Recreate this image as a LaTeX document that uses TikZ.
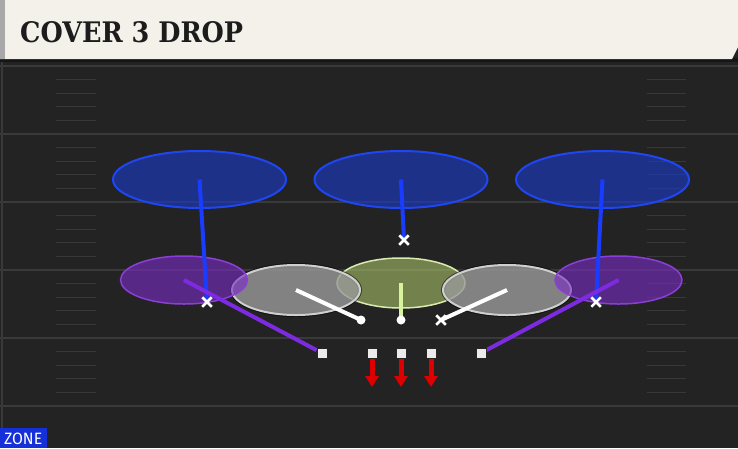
\documentclass[tikz,border=0pt]{standalone}
\usepackage{fontspec}
\usetikzlibrary{shapes.geometric,shapes.misc,arrows.meta}
\newfontfamily\titlefont{DejaVu Serif}
\newfontfamily\zonefont{Fira Sans}
\definecolor{fieldbg}{HTML}{232323}
\definecolor{yardline}{HTML}{393939}
\definecolor{hashcol}{HTML}{383838}
\definecolor{cream}{HTML}{F4F1EA}
\definecolor{headstrip}{HTML}{A8A8A8}
\definecolor{headshadow}{HTML}{161616}
\definecolor{titlecol}{HTML}{1C1C1C}
\definecolor{deepfill}{HTML}{1A3AC8}
\definecolor{deepedge}{HTML}{1F46F0}
\definecolor{deepline}{HTML}{1A3CFF}
\definecolor{flatfill}{HTML}{7A2CC4}
\definecolor{flatedge}{HTML}{8A3FD6}
\definecolor{flatline}{HTML}{7D2BE0}
\definecolor{curlfill}{HTML}{9A9A9A}
\definecolor{curledge}{HTML}{CFCFCF}
\definecolor{hookfill}{HTML}{B5D070}
\definecolor{hookedge}{HTML}{D8ECAE}
\definecolor{hookline}{HTML}{D9F2A0}
\definecolor{rushred}{HTML}{DD0000}
\definecolor{sqfill}{HTML}{EBEBEB}
\definecolor{zoneblue}{HTML}{1530D8}
\begin{document}
\begin{tikzpicture}[x=1pt,y=-1pt,
  yard/.style={draw=yardline,line width=2pt},
  hashmark/.style={draw=hashcol,line width=1.3pt},
  deepzone/.style={ellipse,inner sep=0pt,minimum width=173pt,minimum height=57pt,fill=deepfill,fill opacity=0.62,draw=deepedge,line width=2pt},
  flatzone/.style={ellipse,inner sep=0pt,minimum width=127pt,minimum height=48pt,fill=flatfill,fill opacity=0.62,draw=flatedge,line width=1.5pt},
  curlzone/.style={ellipse,inner sep=0pt,minimum width=128pt,minimum height=50pt,fill=curlfill,fill opacity=0.8,draw=curledge,line width=2pt,
    preaction={draw=black,draw opacity=0.5,line width=4pt}},
  hookzone/.style={ellipse,inner sep=0pt,minimum width=128pt,minimum height=50pt,fill=hookfill,fill opacity=0.55,draw=hookedge,line width=1.5pt},
  deeproute/.style={draw=deepline,line width=4pt},
  flatroute/.style={draw=flatline,line width=4pt},
  curlroute/.style={draw=white,line width=4pt},
  hookroute/.style={draw=hookline,line width=4pt},
  xmark/.style={cross out,draw=white,line width=2.5pt,minimum size=7pt,inner sep=0pt},
  omark/.style={circle,fill=white,minimum size=9pt,inner sep=0pt},
  sqmark/.style={rectangle,fill=sqfill,draw=black!85,line width=0.8pt,minimum size=10pt,inner sep=0pt},
  rusharrow/.style={draw=rushred,line width=5pt,-{Triangle[width=13pt,length=11pt]}}]
\useasboundingbox (0,0) rectangle (738,448);
\fill[fieldbg] (0,0) rectangle (738,448);
\draw[draw=yardline,line width=1.5pt] (2,60) -- (2,448);
% yard lines and hash marks
\foreach \yy in {66,134,202,270,338,406} {\draw[yard] (0,\yy) -- (738,\yy);}
\foreach \yy in {66,134,202,270,338} {
  \foreach \k in {1,2,3,4} {
    \draw[hashmark] (56,\yy+13.6*\k) -- (96,\yy+13.6*\k);
    \draw[hashmark] (647,\yy+13.6*\k) -- (686,\yy+13.6*\k);
  }
}
% header
\fill[headshadow] (0,58) rectangle (738,62);
\fill[cream] (0,0) -- (738,0) -- (738,47) -- (732,59) -- (0,59) -- cycle;
\fill[headstrip] (0,0) rectangle (5,59);
\node[anchor=south west,inner sep=0pt,text=titlecol] (title) at (20,43) {\resizebox{223pt}{21pt}{\titlefont\bfseries COVER 3 DROP}};
% player positions
\coordinate (cbL) at (207,302);
\coordinate (cbR) at (596,302);
\coordinate (fs) at (404,240);
\coordinate (lbL) at (361,320);
\coordinate (lbM) at (401,320);
\coordinate (lbR) at (441,320);
\coordinate (rushL) at (372,387);
\coordinate (rushM) at (401,387);
\coordinate (rushR) at (431,387);
% zones
\node[deepzone] (deepL) at (199.5,179.5) {};
\node[deepzone] (deepM) at (401,179.5) {};
\node[deepzone] (deepR) at (602.5,179.5) {};
\node[hookzone] (hookM) at (401,283) {};
\node[curlzone] (curlL) at (296,290) {};
\node[curlzone] (curlR) at (507,290) {};
\node[flatzone] (flatL) at (184,280) {};
\node[flatzone] (flatR) at (618.5,280) {};
% linemen
\node[sqmark] (deL) at (322,353) {};
\node[sqmark] (dtL) at (372,353) {};
\node[sqmark] (dtM) at (401,353) {};
\node[sqmark] (dtR) at (431,353) {};
\node[sqmark] (deR) at (481,353) {};
% drops
\draw[deeproute] (deepL.center) -- (cbL);
\draw[deeproute] (deepM.center) -- (fs);
\draw[deeproute] (deepR.center) -- (cbR);
\draw[flatroute] (flatL.center) -- (deL);
\draw[flatroute] (flatR.center) -- (deR);
\draw[curlroute] (curlL.center) -- (lbL);
\draw[curlroute] (curlR.center) -- (lbR);
\draw[hookroute] (hookM.center) -- (lbM);
% rush
\draw[rusharrow] (dtL.south) -- (rushL);
\draw[rusharrow] (dtM.south) -- (rushM);
\draw[rusharrow] (dtR.south) -- (rushR);
% redraw squares on top of route ends
\node[sqmark] at (deL) {};
\node[sqmark] at (deR) {};
\node[sqmark] at (dtL) {};
\node[sqmark] at (dtM) {};
\node[sqmark] at (dtR) {};
% defenders
\node[xmark] (mcbL) at (cbL) {};
\node[xmark] (mcbR) at (cbR) {};
\node[xmark] (mfs) at (fs) {};
\node[xmark] (mlbR) at (lbR) {};
\node[omark] (mlbL) at (lbL) {};
\node[omark] (mlbM) at (lbM) {};
% zone label
\fill[zoneblue] (0,428) rectangle (47,448);
\node[anchor=south west,inner sep=0pt,text=white] (zone) at (4,445) {\resizebox{38pt}{11.5pt}{\zonefont ZONE}};
\end{tikzpicture}
\end{document}
